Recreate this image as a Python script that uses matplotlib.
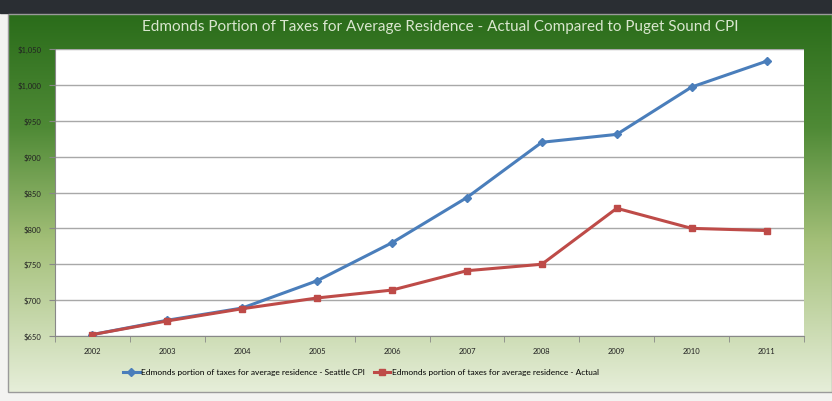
import matplotlib
matplotlib.use("Agg")
import matplotlib.pyplot as plt
import numpy as np
from matplotlib.colors import LinearSegmentedColormap
from matplotlib.patches import Rectangle
from matplotlib.ticker import FuncFormatter

plt.rcParams['font.family'] = ['Lato', 'DejaVu Sans']

# Datos
anios = ['2002', '2003', '2004', '2005', '2006', '2007', '2008', '2009', '2010', '2011']
seattle_cpi = [652, 672, 689, 727, 780, 843, 920, 931, 997, 1033]
actual = [652, 671, 688, 703, 714, 741, 750, 828, 800, 797]

titulo = 'Edmonds Portion of Taxes for Average Residence - Actual Compared to Puget Sound CPI'
etiqueta_cpi = 'Edmonds portion of taxes for average residence - Seattle CPI'
etiqueta_actual = 'Edmonds portion of taxes for average residence - Actual'

W, H = 832, 402
fig = plt.figure(figsize=(W / 100, H / 100), dpi=100)
fig.patch.set_facecolor('#f3f3f1')

# Fondo: banda oscura arriba y panel con degradado verde
fondo = fig.add_axes([0, 0, 1, 1])
fondo.set_xlim(0, W)
fondo.set_ylim(H, 0)
fondo.axis('off')
fondo.add_patch(Rectangle((0, 0), W, 14, color='#2a2e33', zorder=1))
degradado = LinearSegmentedColormap.from_list(
    'verde', [(0, '#2a6c1a'), (0.3, '#4f8a36'), (0.6, '#a3bf78'), (1, '#e6eed9')])
grad = np.linspace(0, 1, 256).reshape(-1, 1)
fondo.imshow(grad, cmap=degradado, aspect='auto', extent=(8, W, 393, 15), zorder=1)
fondo.add_patch(Rectangle((8, 15), W - 8, 378, fill=False, edgecolor='#9a9a9a', lw=1, zorder=2))

ax = fig.add_axes([55 / W, (H - 337) / H, (804 - 55) / W, (337 - 50) / H])
ax.set_facecolor('white')
x = np.arange(len(anios))
ax.plot(x, seattle_cpi, color='#4a7ebb', lw=2.2, marker='D', ms=4, label=etiqueta_cpi, zorder=3)
ax.plot(x, actual, color='#be4b48', lw=2.2, marker='s', ms=5, label=etiqueta_actual, zorder=3)

ax.set_xlim(-0.5, len(anios) - 0.5)
ax.set_ylim(650, 1050)
ax.set_yticks(np.arange(650, 1051, 50))
ax.yaxis.set_major_formatter(FuncFormatter(lambda v, p: '${:,.0f}'.format(v)))
ax.set_xticks(x)
ax.set_xticklabels(anios)
ax.set_xticks(np.arange(-0.5, len(anios), 1), minor=True)
ax.tick_params(axis='x', which='major', length=0, pad=8, labelsize=5.5, labelcolor='#222222')
ax.tick_params(axis='x', which='minor', length=4, color='#888888', direction='out')
ax.tick_params(axis='y', length=4, color='#888888', labelsize=5.5, labelcolor='#222222', pad=6)
ax.grid(axis='y', color='#a8a8a8', lw=1)
ax.set_axisbelow(True)
for lado in ['top', 'right']:
    ax.spines[lado].set_visible(False)
for lado in ['left', 'bottom']:
    ax.spines[lado].set_color('#888888')

fig.text(440 / W, 1 - 27 / H, titulo, ha='center', va='center', fontsize=11, color='#d9e6cf')
fig.legend(loc='center', bbox_to_anchor=(361 / W, 1 - 373 / H), ncol=2, frameon=False,
           fontsize=6, handlelength=2, columnspacing=1, handletextpad=0.2)

fig.savefig('out.png', dpi=100)
